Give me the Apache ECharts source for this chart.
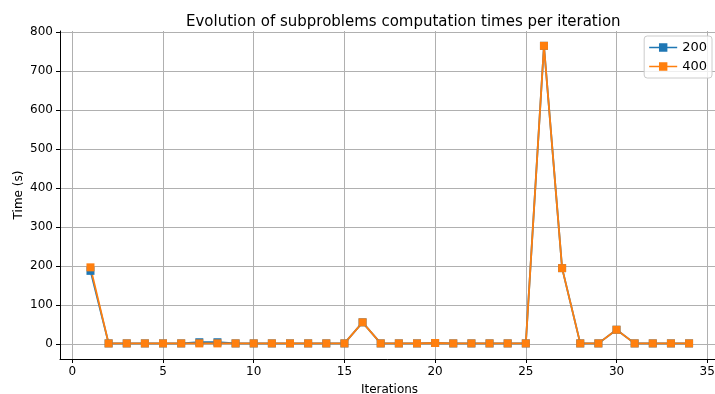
<!DOCTYPE html>
<html>
<head>
<meta charset="utf-8">
<script src="https://cdn.jsdelivr.net/npm/echarts@6/dist/echarts.min.js"></script>
<style>
  html, body { margin: 0; padding: 0; background: #fff; }
  #chart { width: 715px; height: 394px; }
</style>
</head>
<body>
<div id="chart"></div>
<script>
// Iteration numbers and per-iteration subproblem times (seconds)
const iterations = [1,2,3,4,5,6,7,8,9,10,11,12,13,14,15,16,17,18,19,20,21,22,23,24,25,26,27,28,29,30,31,32,33,34];
const times200 = [188,2,2,2,2,2,5,5,2,2,2,2,2,2,2,56,2,2,2,3,2,2,2,2,2,765,195,2,2,37,2,2,2,2];
const times400 = [197,2,2,2,2,2,2,2,2,2,2,2,2,2,2,56,2,2,2,3,2,2,2,2,2,765,195,2,2,37,2,2,2,2];
const xTicks = [0,5,10,15,20,25,30,35];
const yTicks = [0,100,200,300,400,500,600,700,800];

const font = 'DejaVu Sans';
const legendIcon = 'path://M0,4.3H30V5.7H0Z M10.5,0.5H19.5V9.5H10.5Z';

const chart = echarts.init(document.getElementById('chart'), null, { renderer: 'canvas' });

function pairs(ys) { return iterations.map((x, i) => [x, ys[i]]); }

chart.setOption({
  animation: false,
  backgroundColor: '#ffffff',
  textStyle: { fontFamily: font },
  title: {
    text: 'Evolution of subproblems computation times per iteration',
    left: 181, top: 10,
    textStyle: { fontFamily: font, fontSize: 15, fontWeight: 'normal', color: '#000' }
  },
  grid: { left: 60, right: -4, top: 31, bottom: 35, containLabel: false, outerBoundsMode: 'none' },
  legend: {
    right: 3, top: 36, orient: 'vertical',
    itemWidth: 28, itemHeight: 9, itemGap: 6,
    padding: [5, 5, 5, 5],
    borderColor: '#cccccc', borderWidth: 1, borderRadius: 3,
    backgroundColor: 'rgba(255,255,255,0.8)',
    textStyle: { fontFamily: font, fontSize: 13, color: '#000' },
    data: [
      { name: '200', icon: legendIcon },
      { name: '400', icon: legendIcon }
    ]
  },
  xAxis: {
    type: 'value', min: -0.68, max: 35.65,
    name: 'Iterations', nameLocation: 'middle', nameGap: 25, nameMoveOverlap: false,
    nameTextStyle: { fontFamily: font, fontSize: 12, color: '#000' },
    axisLine: { show: true, onZero: false, lineStyle: { color: '#000', width: 1 } },
    axisTick: { show: true, length: 4, inside: false, customValues: xTicks, lineStyle: { color: '#000' } },
    axisLabel: { customValues: xTicks, fontFamily: font, fontSize: 12, color: '#000', margin: 7 },
    splitLine: { show: true, lineStyle: { color: '#b0b0b0', width: 1 } }
  },
  yAxis: {
    type: 'value', min: -38, max: 803,
    name: 'Time (s)', nameLocation: 'middle', nameGap: 35, nameRotate: 90, nameMoveOverlap: false,
    nameTextStyle: { fontFamily: font, fontSize: 12, color: '#000' },
    axisLine: { show: true, onZero: false, lineStyle: { color: '#000', width: 1 } },
    axisTick: { show: true, length: 4, inside: false, customValues: yTicks, lineStyle: { color: '#000' } },
    axisLabel: { customValues: yTicks, fontFamily: font, fontSize: 12, color: '#000', margin: 7 },
    splitLine: { show: true, lineStyle: { color: '#b0b0b0', width: 1 } }
  },
  series: [
    {
      name: '200', type: 'line', data: pairs(times200),
      color: '#1f77b4',
      symbol: 'rect', symbolSize: 8,
      lineStyle: { width: 1.8, color: '#1f77b4' },
      itemStyle: { color: '#1f77b4' }
    },
    {
      name: '400', type: 'line', data: pairs(times400),
      color: '#ff7f0e',
      symbol: 'rect', symbolSize: 8,
      lineStyle: { width: 1.8, color: '#ff7f0e' },
      itemStyle: { color: '#ff7f0e' }
    }
  ]
});
</script>
</body>
</html>
